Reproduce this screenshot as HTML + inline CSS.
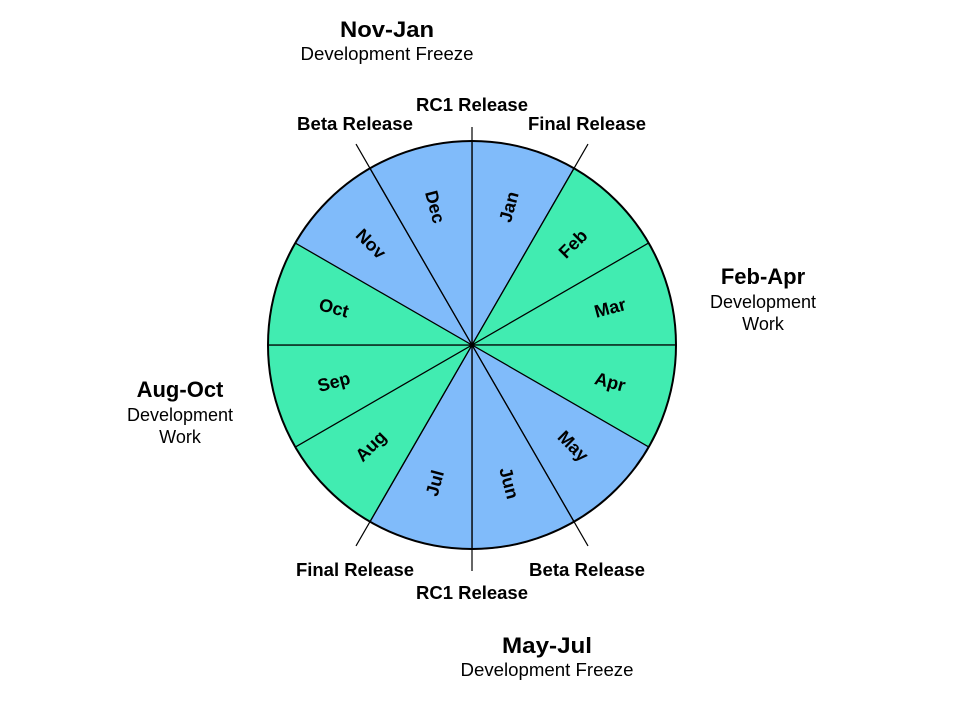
<!DOCTYPE html>
<html><head><meta charset="utf-8"><style>
html,body{margin:0;padding:0;background:#fff;}
svg{display:block;font-family:"Liberation Sans",Arial,sans-serif;}
.b{font-weight:bold;}
</style></head><body>
<svg width="960" height="720" viewBox="0 0 960 720" xmlns="http://www.w3.org/2000/svg">
<g id="pie"></g>
<script>
(function(){
var cx=472,cy=345,r=204,g=document.getElementById('pie'),ns='http://www.w3.org/2000/svg';
var months=['Jan','Feb','Mar','Apr','May','Jun','Jul','Aug','Sep','Oct','Nov','Dec'];
var blue={Jan:1,May:1,Jun:1,Jul:1,Nov:1,Dec:1};
function pt(a,rr){var t=a*Math.PI/180;return [cx+rr*Math.sin(t),cy-rr*Math.cos(t)];}
for(var i=0;i<12;i++){
 var a0=i*30,a1=a0+30,p0=pt(a0,r),p1=pt(a1,r);
 var p=document.createElementNS(ns,'path');
 p.setAttribute('d','M'+cx+','+cy+' L'+p0[0]+','+p0[1]+' A'+r+','+r+' 0 0 1 '+p1[0]+','+p1[1]+' Z');
 p.setAttribute('fill',blue[months[i]]?'#80bbfa':'#41ecb1');
 p.setAttribute('stroke','#000');p.setAttribute('stroke-width','1.2');
 g.appendChild(p);
}
for(var i=0;i<12;i++){
 var am=i*30+15,lp=pt(am,143),rot=am<180?am-90:am-270;
 var t=document.createElementNS(ns,'text');
 t.setAttribute('x',lp[0]);t.setAttribute('y',lp[1]);
 t.setAttribute('text-anchor','middle');t.setAttribute('dominant-baseline','central');
 t.setAttribute('font-size','18');t.setAttribute('font-weight','bold');
 t.setAttribute('transform','rotate('+rot+' '+lp[0]+' '+lp[1]+')');
 t.textContent=months[i];g.appendChild(t);
}
[0,30,150,180,210,330].forEach(function(a){
 var L=(a==0||a==180)?(a==0?218:226):232,e=pt(a,L);
 var l=document.createElementNS(ns,'line');
 l.setAttribute('x1',cx);l.setAttribute('y1',cy);l.setAttribute('x2',e[0]);l.setAttribute('y2',e[1]);
 l.setAttribute('stroke','#000');l.setAttribute('stroke-width','1.2');g.appendChild(l);
});
var c=document.createElementNS(ns,'circle');
c.setAttribute('cx',cx);c.setAttribute('cy',cy);c.setAttribute('r',r);
c.setAttribute('fill','none');c.setAttribute('stroke','#000');c.setAttribute('stroke-width','2');
g.appendChild(c);
})();
</script>
<g font-size="18" class="b" text-anchor="middle">
<text x="472" y="111" textLength="112" lengthAdjust="spacingAndGlyphs">RC1 Release</text>
<text x="355" y="130" textLength="116" lengthAdjust="spacingAndGlyphs">Beta Release</text>
<text x="587" y="130" textLength="118" lengthAdjust="spacingAndGlyphs">Final Release</text>
<text x="355" y="576" textLength="118" lengthAdjust="spacingAndGlyphs">Final Release</text>
<text x="587" y="576" textLength="116" lengthAdjust="spacingAndGlyphs">Beta Release</text>
<text x="472" y="599" textLength="112" lengthAdjust="spacingAndGlyphs">RC1 Release</text>
</g>
<g text-anchor="middle">
<text x="387" y="37" font-size="22" class="b" textLength="94" lengthAdjust="spacingAndGlyphs">Nov-Jan</text>
<text x="387" y="60" font-size="18" textLength="173" lengthAdjust="spacingAndGlyphs">Development Freeze</text>
<text x="547" y="653" font-size="22" class="b" textLength="90" lengthAdjust="spacingAndGlyphs">May-Jul</text>
<text x="547" y="676" font-size="18" textLength="173" lengthAdjust="spacingAndGlyphs">Development Freeze</text>
<text x="763" y="284" font-size="22" class="b">Feb-Apr</text>
<text x="763" y="308" font-size="18">Development</text>
<text x="763" y="330" font-size="18">Work</text>
<text x="180" y="397" font-size="22" class="b">Aug-Oct</text>
<text x="180" y="421" font-size="18">Development</text>
<text x="180" y="443" font-size="18">Work</text>
</g>
</svg>
</body></html>
